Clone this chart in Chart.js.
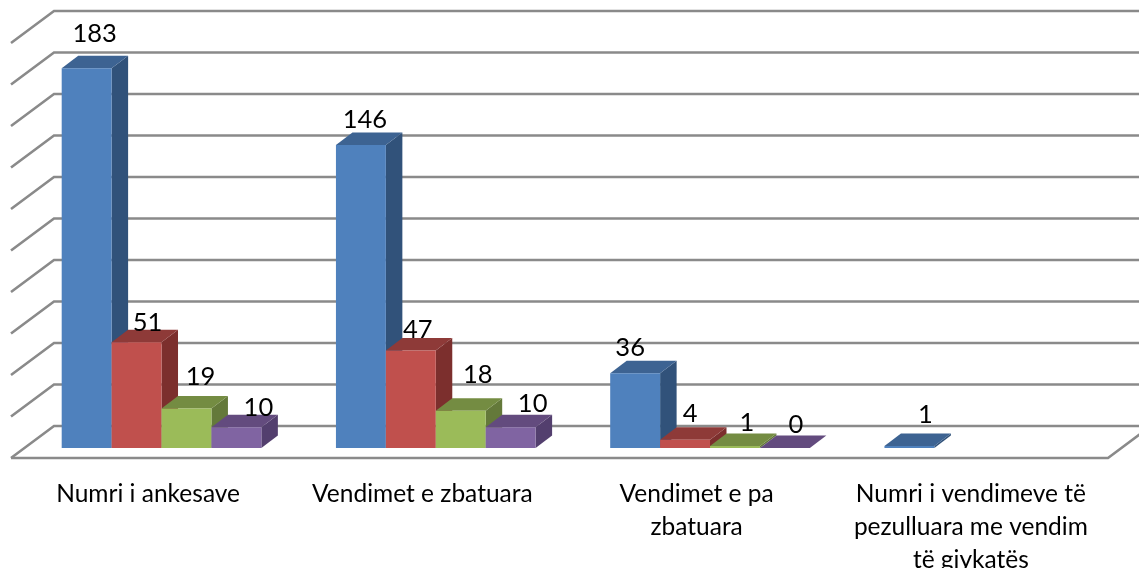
<!DOCTYPE html>
<html>
<head>
<meta charset="utf-8">
<style>html,body{margin:0;padding:0;background:#fff;overflow:hidden}#wrap{width:1139px;height:568px}</style>
<script src="https://cdn.jsdelivr.net/npm/chart.js@4"></script>
</head>
<body>
<div id="wrap"><canvas id="c" width="1139" height="568"></canvas></div>
<script>
const categories = ["Numri i ankesave","Vendimet e zbatuara",["Vendimet e pa","zbatuara"],["Numri i vendimeve të","pezulluara me vendim","të gjykatës"]];
const seriesBlue = [183,146,36,1];
const seriesRed = [51,47,4,null];
const seriesGreen = [19,18,1,null];
const seriesPurple = [10,10,0,null];
const yTickStep = 20;
const yMax = 200;

// hand-placed label offsets of the original, relative to each bar's front top centre
const labelShiftX = [[8,4,-5,16],[11,7,5,0],[14,17,12,0],[22,22,11,0]];
const labelShiftY = [[-34,-25,-26,-31],[-19,-21,-26,0],[-32,-36,-23,0],[-19,-23,-23,0]];
const faceColors = ["#4F81BD","#C0504D","#9BBB59","#8064A2"];
const sideColors = ["#31527A","#7C2F2D","#64793A","#533F6E"];
const topColors = ["#3D6392","#8E3A38","#748C42","#634B7E"];
const GRID = "#8A8A8A";
const BAR_D = {x:16.5,y:12.5};
const WALL = {backX:29.6,backY:22,frontX:13.4,frontY:10};

const bar3d = {
  id:"bar3d",
  beforeDatasetsDraw(chart){
    const {ctx,chartArea:a,scales:{y}} = chart;
    ctx.save();
    ctx.strokeStyle = GRID; ctx.lineWidth = 2.6; ctx.lineJoin = "miter";
    y.ticks.forEach(t=>{
      const p = y.getPixelForValue(t.value);
      ctx.beginPath();
      ctx.moveTo(a.left-WALL.frontX,p+WALL.frontY);
      ctx.lineTo(a.left+WALL.backX,p-WALL.backY);
      ctx.lineTo(a.right+WALL.backX,p-WALL.backY);
      ctx.stroke();
    });
    const p0 = y.getPixelForValue(0);
    ctx.beginPath();
    ctx.moveTo(a.left-WALL.frontX,p0+WALL.frontY);
    ctx.lineTo(a.right-WALL.frontX,p0+WALL.frontY);
    ctx.lineTo(a.right+WALL.backX,p0-WALL.backY);
    ctx.stroke();
    ctx.restore();
  },
  beforeDatasetDraw(){ return false; },
  afterDatasetsDraw(chart){
    const {ctx} = chart;
    const poly = (pts,col)=>{
      ctx.fillStyle = col; ctx.beginPath();
      pts.forEach((q,i)=> i?ctx.lineTo(q[0],q[1]):ctx.moveTo(q[0],q[1]));
      ctx.closePath(); ctx.fill();
    };
    chart.data.datasets.forEach((ds,i)=>{
      chart.getDatasetMeta(i).data.forEach((el,j)=>{
        if(ds.data[j]===null) return;
        const {x,y,base,width} = el.getProps(["x","y","base","width"],true);
        const l = x-width/2, r = x+width/2;
        poly([[r,y],[r+BAR_D.x,y-BAR_D.y],[r+BAR_D.x,base-BAR_D.y],[r,base]],sideColors[i]);
        poly([[l,y],[l+BAR_D.x,y-BAR_D.y],[r+BAR_D.x,y-BAR_D.y],[r,y]],topColors[i]);
        el.draw(ctx);
      });
    });
    ctx.save();
    ctx.fillStyle = "#000";
    ctx.font = '25.5px Lato';
    ctx.textAlign = "center"; ctx.textBaseline = "middle";
    chart.data.datasets.forEach((ds,i)=>{
      chart.getDatasetMeta(i).data.forEach((el,j)=>{
        if(ds.data[j]===null) return;
        const {x,y} = el.getProps(["x","y"],true);
        ctx.fillText(String(ds.data[j]),x+labelShiftX[i][j],y+labelShiftY[i][j]);
      });
    });
    ctx.restore();
  }
};

new Chart(document.getElementById("c"),{
  type:"bar",
  data:{labels:categories,datasets:[
    {label:"Seria 1",data:seriesBlue,backgroundColor:faceColors[0]},
    {label:"Seria 2",data:seriesRed,backgroundColor:faceColors[1]},
    {label:"Seria 3",data:seriesGreen,backgroundColor:faceColors[2]},
    {label:"Seria 4",data:seriesPurple,backgroundColor:faceColors[3]}
  ]},
  plugins:[bar3d],
  options:{
    responsive:false,animation:false,
    layout:{padding:{left:24.4,right:17.6,top:33,bottom:0}},
    datasets:{bar:{barPercentage:1,categoryPercentage:0.728,borderWidth:0,minBarLength:0}},
    plugins:{legend:{display:false},tooltip:{enabled:false},title:{display:false}},
    scales:{
      x:{
        grid:{display:false,drawTicks:false},border:{display:false},
        afterFit(s){s.height=120;},
        ticks:{autoSkip:false,maxRotation:0,minRotation:0,padding:30,labelOffset:-13.4,color:"#000",
          font:{family:"Lato",size:24.5,lineHeight:1.34}}
      },
      y:{display:false,min:0,max:yMax,ticks:{stepSize:yTickStep}}
    }
  }
});
</script>
</body>
</html>
